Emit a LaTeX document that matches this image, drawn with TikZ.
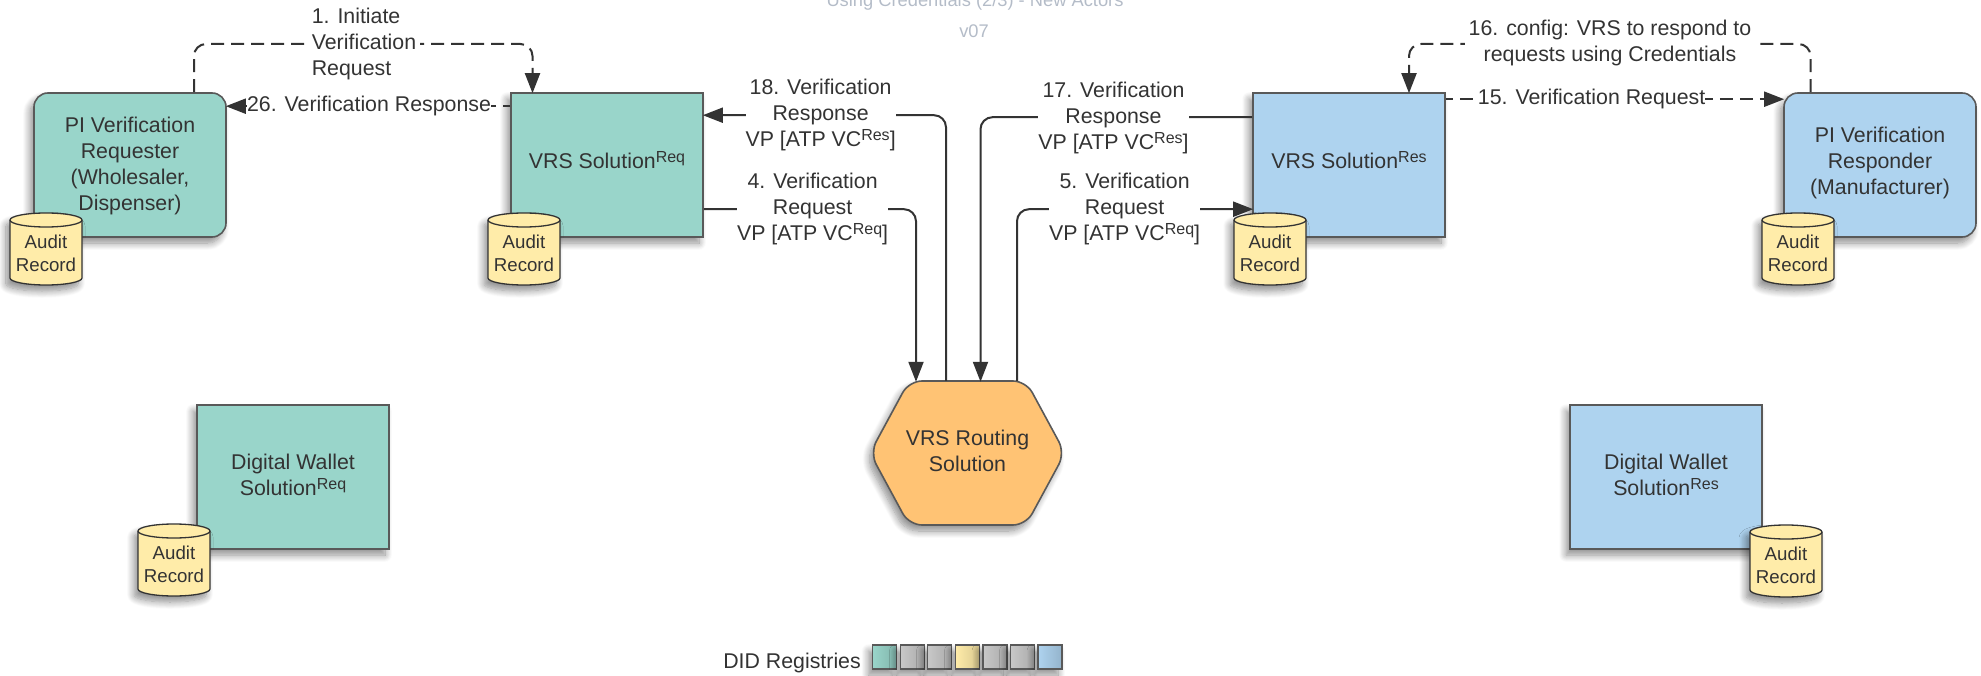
\documentclass[tikz,border=0pt]{standalone}
\usepackage{fontspec}
\setmainfont{Liberation Sans}
\usetikzlibrary{arrows.meta,shadows.blur}
\definecolor{tealf}{HTML}{99D5CA}
\definecolor{bluef}{HTML}{AED3EF}
\definecolor{yelf}{HTML}{FFECA9}
\definecolor{orf}{HTML}{FFC374}
\definecolor{edgec}{HTML}{595959}
\definecolor{ink}{HTML}{333333}
\definecolor{greyf}{HTML}{C8C8C8}
\definecolor{titlec}{HTML}{B4BCC8}
\newcommand\supx[1]{\smash{\raisebox{6.5pt}{\fontsize{16}{16}\selectfont #1}}}
\tikzset{
  softshadow/.style={blur shadow={shadow xshift=-4pt,shadow yshift=-6pt,shadow blur radius=7pt,shadow opacity=45,shadow blur steps=10}},
  boxtxt/.style={text=ink,align=center,inner sep=0pt,yshift=2pt,font=\fontsize{21.33}{26}\selectfont},
  basebox/.style={draw=edgec,line width=1.6pt,inner sep=0pt,softshadow},
  sqbox/.style={basebox,minimum width=192pt,minimum height=144pt},
  rndbox/.style={sqbox,rounded corners=14pt},
  lbl/.style={fill=white,text=ink,align=center,inner xsep=0pt,inner ysep=1pt,font=\fontsize{21.33}{26}\selectfont},
  flow/.style={draw=ink,line width=2pt,rounded corners=12pt,shorten >=-1pt,-{Triangle[length=20pt,width=15pt]}},
  dflow/.style={flow,dash pattern=on 13pt off 7pt},
  cylshape/.style={draw=ink,line width=1.3pt,fill=yelf,softshadow},
  cyltext/.style={text=ink,align=center,inner sep=0pt,font=\fontsize{18.67}{23}\selectfont},
  legbox/.style={draw=edgec,line width=1.6pt,minimum size=24pt,inner sep=0pt,softshadow},
  titletext/.style={text=titlec,font=\fontsize{18.3}{26}\selectfont},
}
\newcommand\auditcyl[4]{%
  \path[cylshape] (#2,#3) ++(0,7) arc[x radius=#4pt/2,y radius=7pt,start angle=180,end angle=0]
     -- ++(0,58) arc[x radius=#4pt/2,y radius=7pt,start angle=0,end angle=-180] -- cycle;
  \draw[draw=ink,line width=1.3pt] (#2,#3) ++(0,7) arc[x radius=#4pt/2,y radius=7pt,start angle=180,end angle=360];
  \node[cyltext,minimum width=#4pt,minimum height=58pt] (#1) at (#2+#4/2,#3+40.5) {Audit\\Record};
}
\begin{document}
\begin{tikzpicture}[x=1pt,y=-1pt]
\useasboundingbox (0,0) rectangle (1981,676);
\clip (0,0) rectangle (1981,676);
% title
\node[titletext] (ttl) at (975,2) {Using Credentials (2/3) - New Actors};
\node[titletext] (ver) at (974,31) {v07};
% boxes
\node[rndbox,fill=tealf,label={[boxtxt,yshift=-3pt]center:{PI Verification\\Requester\\(Wholesaler,\\Dispenser)}}] (pireq) at (130,165) {};
\node[sqbox,fill=tealf,label={[boxtxt,yshift=2pt]center:{VRS Solution\supx{Req}}}] (vrsreq) at (607,165) {};
\node[sqbox,fill=bluef,label={[boxtxt,yshift=2pt]center:{VRS Solution\supx{Res}}}] (vrsres) at (1349,165) {};
\node[rndbox,fill=bluef,label={[boxtxt,yshift=0.5pt]center:{PI Verification\\Responder\\(Manufacturer)}}] (pires) at (1880,165) {};
\node[sqbox,fill=tealf,label={[boxtxt]center:{Digital Wallet\\Solution\supx{Req}}}] (walreq) at (293,477) {};
\node[sqbox,fill=bluef,label={[boxtxt]center:{Digital Wallet\\Solution\supx{Res}}}] (walres) at (1666,477) {};
% hexagon
\path[draw=edgec,line width=1.6pt,fill=orf,rounded corners=13pt,softshadow]
  (909,381) -- (1026,381) -- (1065,453) -- (1026,525) -- (909,525) -- (870,453) -- cycle;
\node[inner sep=0pt,minimum width=187pt,minimum height=144pt,
  label={[boxtxt,yshift=0.5pt]center:{VRS Routing\\Solution}}] (hex) at (967.5,453) {};
% connectors
\draw[dflow] ([xshift=64pt]pireq.north) |- (360,44) -| ([xshift=-74.5pt]vrsreq.north);
\draw[dflow,dash phase=6pt] ([yshift=-14pt]vrsreq.north west) -- ([yshift=-14pt]pireq.north east);
\draw[flow] ([xshift=-21.5pt]hex.north) |- ([yshift=-23pt]vrsreq.north east);
\draw[flow] ([yshift=-117pt]vrsreq.north east) -| ([xshift=-51.5pt]hex.north);
\draw[flow] ([yshift=-25pt]vrsres.north west) -| ([xshift=13pt]hex.north);
\draw[flow] ([xshift=49.5pt]hex.north) |- ([yshift=-117pt]vrsres.north west);
\draw[dflow] ([xshift=-69.5pt]pires.north) |- (1600,44) -| ([xshift=60pt]vrsres.north);
\draw[dflow,dash phase=6pt] ([yshift=-7pt]vrsres.north east) -- ([yshift=-7pt]pires.north west);
% labels
\node[lbl,align=left,inner xsep=4pt] (l1) at (364,44) {1. Initiate\\Verification\\Request};
\node[lbl] (l26) at (369,106) {26. Verification Response};
\node[lbl] (l18) at (820.6,115) {18. Verification\\Response\\VP [ATP VC\supx{Res}]};
\node[lbl] (l4) at (812.6,209) {4. Verification\\Request\\VP [ATP VC\supx{Req}]};
\node[lbl] (l17) at (1113.5,118) {17. Verification\\Response\\VP [ATP VC\supx{Res}]};
\node[lbl] (l5) at (1124.6,209) {5. Verification\\Request\\VP [ATP VC\supx{Req}]};
\node[lbl,inner xsep=4pt] (l16) at (1610,43) {16. config: VRS to respond to\\requests using Credentials};
\node[lbl] (l15) at (1591.6,99) {15. Verification Request};
% cylinders
\auditcyl{c1}{10}{213}{72}
\auditcyl{c2}{488}{213}{72}
\auditcyl{c3}{1234}{213}{72}
\auditcyl{c4}{1762}{213}{72}
\auditcyl{c5}{138}{524}{72}
\auditcyl{c6}{1750}{525}{72}
% legend
\node[text=ink,inner sep=0pt,anchor=east,font=\fontsize{21.33}{26}\selectfont] (leg) at (861,663) {DID Registries};
\foreach \nm/\cx/\col in {a/884.5/tealf,b/912.5/greyf,c/939.5/greyf,d/967.5/yelf,e/995/greyf,f/1022.5/greyf,g/1050/bluef}{
  \node[legbox,left color=\col,middle color=\col,right color=\col!85!black] (leg\nm) at (\cx,657) {};
}
\end{tikzpicture}
\end{document}
